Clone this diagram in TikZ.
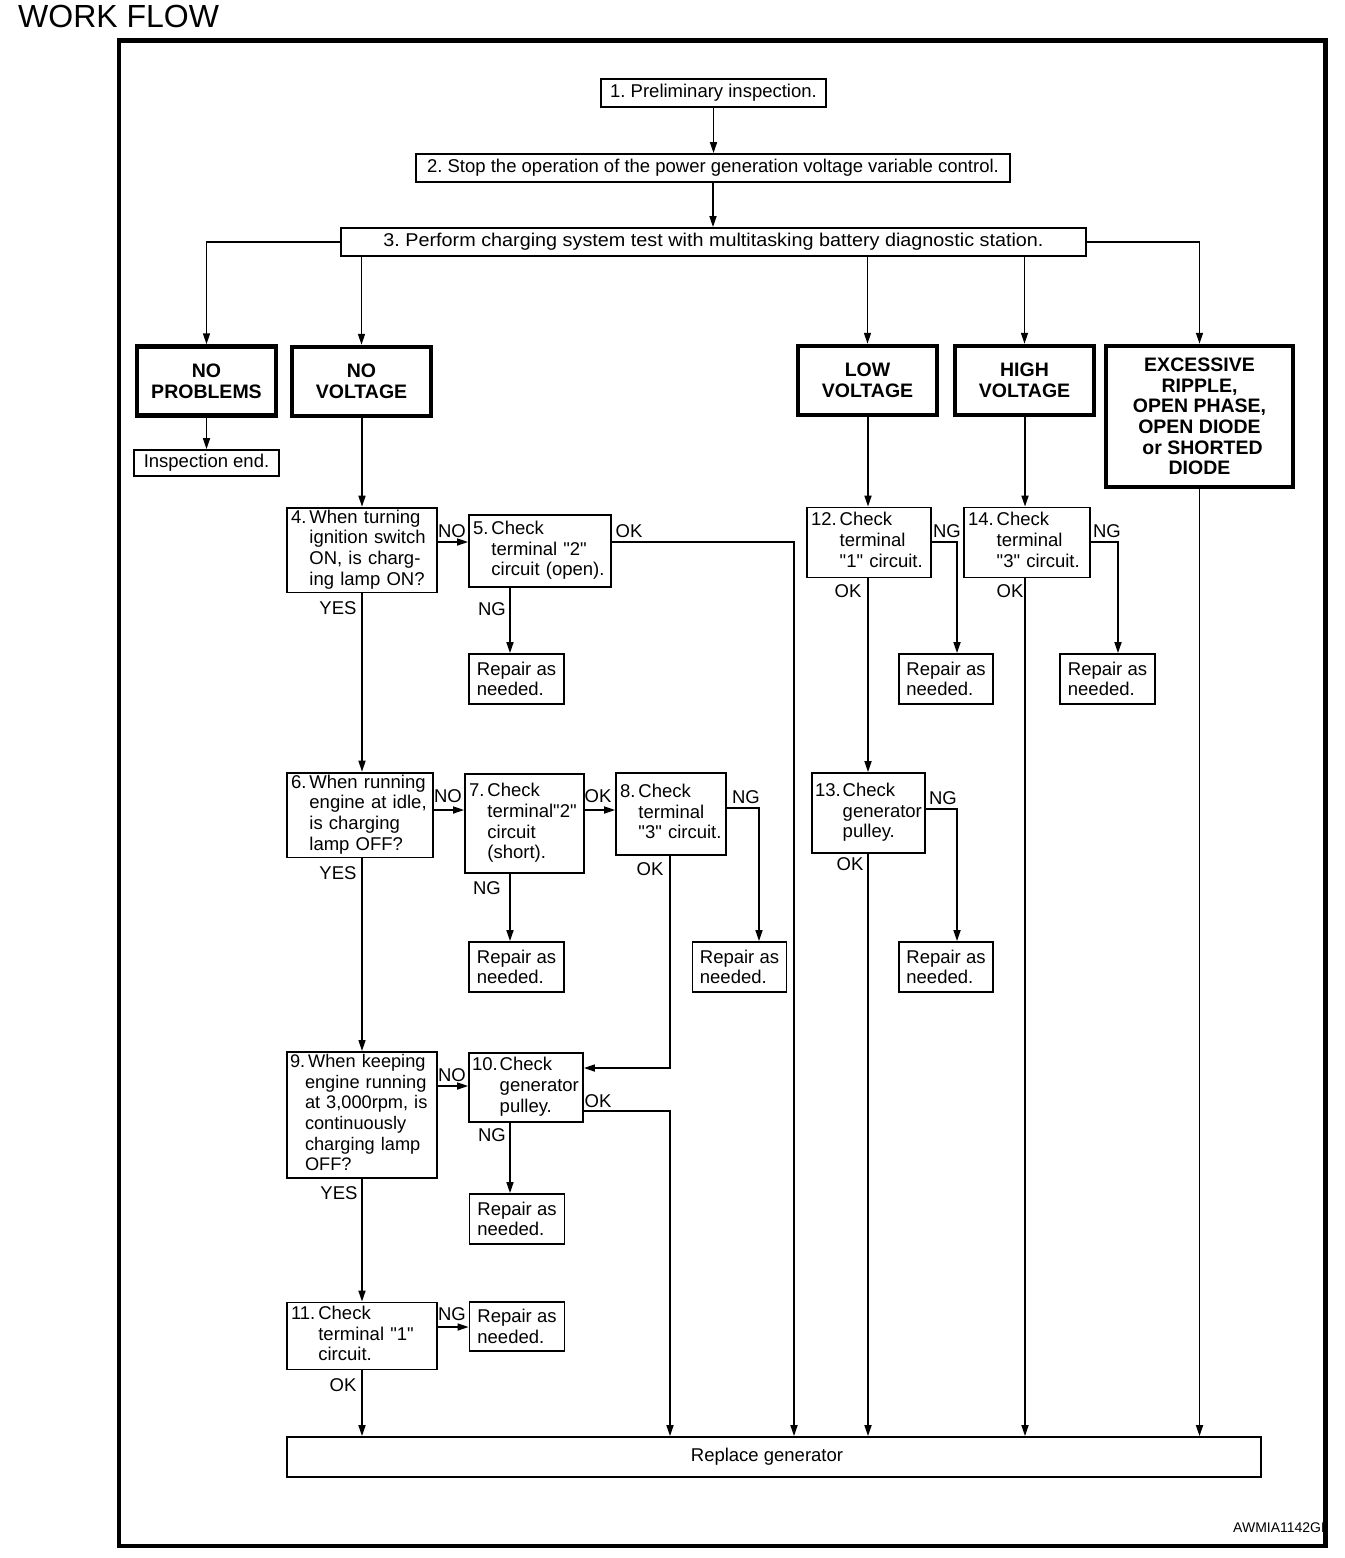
\documentclass[tikz,border=0pt]{standalone}
\usepackage{fontspec}
\setmainfont{Liberation Sans}[Ligatures=TeXOff]
\usetikzlibrary{arrows.meta}

% step text with hanging indent
\newcommand{\stepnum}[3][3pt]{\begin{tabular}{@{}l@{\hspace{#1}}l@{}}#2&\begin{tabular}[t]{@{}l@{}}#3\end{tabular}\end{tabular}}

\begin{document}
\frenchspacing
\begin{tikzpicture}[x=1pt, y=-1pt, font=\fontsize{18.5}{20.7}\selectfont]

  % Node styles
  \tikzstyle{linebox}=[rectangle, draw, line width=1.8pt, inner sep=1pt]
  \tikzstyle{stepbox}=[rectangle, draw, line width=1.8pt, inner xsep=4pt, inner ysep=1pt, align=left]
  \tikzstyle{resbox}=[rectangle, draw, line width=4.5pt, inner sep=1pt, align=center, font=\fontsize{19.5}{20.6}\selectfont\bfseries, minimum width=139, minimum height=69]
  \tikzstyle{repbox}=[rectangle, draw, line width=1.8pt, inner sep=1pt, align=left, minimum width=95, minimum height=50]
  \tikzstyle{lbl}=[inner sep=0pt]
  \tikzstyle{arr}=[line width=1.6pt, -{Triangle[length=11pt, width=7pt]}]

  \useasboundingbox (0,0) rectangle (1344,1558);

  % Title and frame
  \node[anchor=base west, inner sep=0pt, font=\fontsize{32}{32}\selectfont] (title) at (18,27) {WORK FLOW};
  \node[minimum width=1206.5, minimum height=1505.5, inner sep=0pt] (frame) at (722.25,793.25) {};
  \begin{scope}
    \clip (frame.south west) rectangle (frame.north east);
    \node[anchor=base west, inner sep=0pt, font=\fontsize{14}{14}\selectfont] (figid) at (1233,1532) {AWMIA1142GB};
  \end{scope}
  \draw[line width=4.5pt] (frame.south west) rectangle (frame.north east);

  % Top steps
  \node[linebox, minimum width=225, minimum height=28] (b1) at (713.5,93) {1. Preliminary inspection.};
  \node[linebox, minimum width=594, minimum height=28] (b2) at (713,168) {2. Stop the operation of the power generation voltage variable control.};
  \node[linebox, minimum width=745, minimum height=28] (b3) at (713.5,242) {\scalebox{1.07}[1]{3. Perform charging system test with multitasking battery diagnostic station.}};

  % Test results
  \node[resbox] (np) at (206.5,381) {NO\\PROBLEMS};
  \node[resbox] (nv) at (361.5,381.5) {NO\\VOLTAGE};
  \node[resbox] (lv) at (867.5,380.5) {LOW\\VOLTAGE};
  \node[resbox] (hv) at (1024.5,380.5) {HIGH\\VOLTAGE};
  \node[resbox, minimum width=187, minimum height=141] (ex) at (1199.5,416.5) {EXCESSIVE\\RIPPLE,\\OPEN PHASE,\\OPEN DIODE\\\hspace*{6pt}or SHORTED\\DIODE};

  \node[linebox, minimum width=145, minimum height=26] (ie) at (206.5,463) {Inspection end.};

  % NO VOLTAGE branch
  \node[stepbox, text width=142, minimum height=84] (b4) at (362,550) {\stepnum{4.}{When turning\\ignition switch\\ON, is charg-\\ing lamp ON?}};
  \node[stepbox, text width=134, minimum height=72] (b5) at (540,551) {\stepnum{5.}{Check\\terminal "2"\\circuit (open).}};
  \node[repbox] (r5) at (516.5,679) {Repair as\\needed.};

  \node[stepbox, text width=138, minimum height=84] (b6) at (360,815) {\stepnum{6.}{When running\\engine at idle,\\is charging\\lamp OFF?}};
  \node[stepbox, text width=111, minimum height=99] (b7) at (524.5,823.5) {\stepnum{7.}{Check\\terminal"2"\\circuit\\(short).}};
  \node[stepbox, text width=102, minimum height=82] (b8) at (671,814) {\stepnum{8.}{Check\\terminal\\"3" circuit.}};
  \node[repbox] (r7) at (516.5,967) {Repair as\\needed.};
  \node[repbox, minimum width=94] (r8) at (739.5,967) {Repair as\\needed.};

  \node[stepbox, inner xsep=3pt, text width=144, minimum height=126, font=\fontsize{18.2}{20.7}\selectfont] (b9) at (362,1115) {\begin{tabular}{@{}l@{}}9.\hspace{3pt}When keeping\\\hspace*{15pt}engine running\\\hspace*{15pt}at 3,000rpm, is\\\hspace*{15pt}continuously\\\hspace*{15pt}charging lamp\\\hspace*{15pt}OFF?\end{tabular}};
  \node[stepbox, inner xsep=3pt, text width=108, minimum height=69] (b10) at (526,1087.5) {\stepnum[2pt]{10.}{Check\\generator\\pulley.}};
  \node[repbox] (r10) at (517,1219) {Repair as\\needed.};

  \node[stepbox, text width=142, minimum height=67] (b11) at (362,1336) {\stepnum[3pt]{11.}{Check\\terminal "1"\\circuit.}};
  \node[repbox, minimum height=49] (r11) at (517,1326.5) {Repair as\\needed.};

  \node[linebox, minimum width=974, minimum height=40] (rg) at (774,1457) {Replace generator\hspace*{14pt}};

  % LOW / HIGH VOLTAGE branches
  \node[stepbox, text width=116, minimum height=70] (b12) at (869,542.5) {\stepnum[3pt]{12.}{Check\\terminal\\"1" circuit.}};
  \node[repbox, minimum width=94] (r12) at (946,679) {Repair as\\needed.};
  \node[stepbox, inner xsep=3pt, text width=107, minimum height=80] (b13) at (868.5,813) {\stepnum[2pt]{13.}{Check\\generator\\pulley.}};
  \node[repbox, minimum width=94] (r13) at (946,967) {Repair as\\needed.};
  \node[stepbox, text width=118, minimum height=70] (b14) at (1027,542.5) {\stepnum[3pt]{14.}{Check\\terminal\\"3" circuit.}};
  \node[repbox] (r14) at (1107.5,679) {Repair as\\needed.};

  % Links from the top
  \draw[arr] (b1.south) -- (b1.south |- b2.north);
  \draw[arr] (b2.south) -- (b2.south |- b3.north);
  \draw[arr] (b3.west) -| (np.north);
  \draw[arr] (nv.north |- b3.south) -- (nv.north);
  \draw[arr] (lv.north |- b3.south) -- (lv.north);
  \draw[arr] (hv.north |- b3.south) -- (hv.north);
  \draw[arr] (b3.east) -| (ex.north);
  \draw[arr] (np.south) -- (ie.north);

  % NO VOLTAGE links
  \draw[arr] (nv.south -| 362,0) -- (b4.north);
  \draw[arr] (b4.east |- 0,542) -- (b5.west |- 0,542);
  \draw[arr] (b5.east |- 0,542) -| (rg.north -| 794,0);
  \draw[arr] (b5.south -| 510,0) -- (r5.north -| 510,0);
  \draw[arr] (b4.south) -- (b4.south |- b6.north);
  \draw[arr] (b6.east |- 0,810) -- (b7.west |- 0,810);
  \draw[arr] (b7.east |- 0,810) -- (b8.west |- 0,810);
  \draw[arr] (b8.east |- 0,808) -| (r8.north -| 759,0);
  \draw[arr] (b8.south -| 670,0) |- (b10.east |- 0,1068);
  \draw[arr] (b7.south -| 510,0) -- (r7.north -| 510,0);
  \draw[arr] (b6.south -| 362,0) -- (b9.north -| 362,0);
  \draw[arr] (b9.east |- 0,1086) -- (b10.west |- 0,1086);
  \draw[arr] (b10.east |- 0,1111) -| (rg.north -| 670,0);
  \draw[arr] (b10.south -| 510,0) -- (r10.north -| 510,0);
  \draw[arr] (b9.south) -- (b11.north);
  \draw[arr] (b11.east |- 0,1327) -- (r11.west |- 0,1327);
  \draw[arr] (b11.south) -- (rg.north -| b11.south);

  % LOW / HIGH VOLTAGE links
  \draw[arr] (lv.south -| 868,0) -- (b12.north -| 868,0);
  \draw[arr] (b12.east |- 0,542) -| (r12.north -| 957,0);
  \draw[arr] (b12.south -| 868,0) -- (b13.north -| 868,0);
  \draw[arr] (b13.east |- 0,809) -| (r13.north -| 957,0);
  \draw[arr] (b13.south -| 868,0) -- (rg.north -| 868,0);
  \draw[arr] (hv.south -| 1025,0) -- (b14.north -| 1025,0);
  \draw[arr] (b14.east |- 0,542) -| (r14.north -| 1118,0);
  \draw[arr] (b14.south -| 1025,0) -- (rg.north -| 1025,0);
  \draw[arr] (ex.south) -- (rg.north -| ex.south);

  % Labels
  \node[lbl] (l4no) at (452,531) {NO};
  \node[lbl] (l5ok) at (629,531) {OK};
  \node[lbl] (l5ng) at (492,609) {NG};
  \node[lbl] (l4yes) at (338,608) {YES};
  \node[lbl] (l6no) at (448,796) {NO};
  \node[lbl] (l7ok) at (598,796) {OK};
  \node[lbl] (l6yes) at (338,873) {YES};
  \node[lbl] (l7ng) at (487,888) {NG};
  \node[lbl] (l8ng) at (746,797) {NG};
  \node[lbl] (l8ok) at (650,869) {OK};
  \node[lbl] (l9no) at (452,1075) {NO};
  \node[lbl] (l10ok) at (598,1101) {OK};
  \node[lbl] (l10ng) at (492,1135) {NG};
  \node[lbl] (l9yes) at (339,1193) {YES};
  \node[lbl] (l11ng) at (452,1314) {NG};
  \node[lbl] (l11ok) at (343,1385) {OK};
  \node[lbl] (l12ng) at (947,531) {NG};
  \node[lbl] (l12ok) at (848,591) {OK};
  \node[lbl] (l13ng) at (943,798) {NG};
  \node[lbl] (l13ok) at (850,864) {OK};
  \node[lbl] (l14ng) at (1107,531) {NG};
  \node[lbl] (l14ok) at (1010,591) {OK};

\end{tikzpicture}
\end{document}
